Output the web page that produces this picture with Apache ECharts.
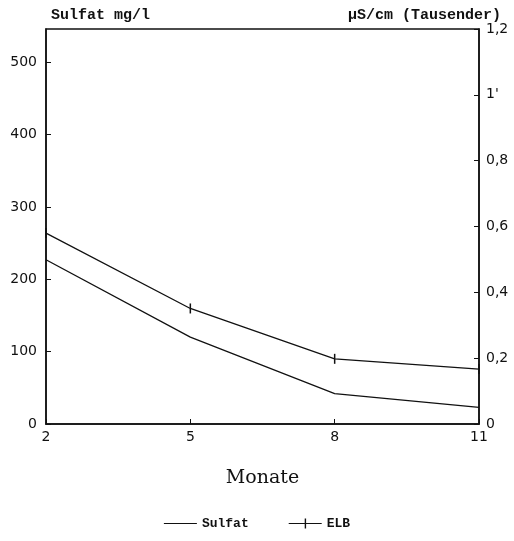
<!DOCTYPE html>
<html>
<head>
<meta charset="utf-8">
<script src="https://cdn.jsdelivr.net/npm/echarts@6/dist/echarts.min.js"></script>
<style>
  html, body { margin: 0; padding: 0; background: #fff; }
  #chart { width: 514px; height: 541px; }
</style>
</head>
<body>
<div id="chart"></div>
<script>
// Daten
const months = [2, 5, 8, 11];
const sulfat = [227, 120, 42, 23];          // mg/l
const elb = [0.58, 0.351, 0.198, 0.167];    // µS/cm (Tausender)
const rightLabels = ['0', '0,2', '0,4', '0,6', '0,8', "1'", '1,2'];

const chart = echarts.init(document.getElementById('chart'));

const monoFont = 'Liberation Mono';
const numFont = 'DejaVu Sans';

// Legenden-Symbole: Linie bzw. Linie mit senkrechtem Strich
const iconLine = 'path://M0,4.4L33,4.4L33,5.6L0,5.6Z';
const iconCross = 'path://M0,4.4L16,4.4L16,0L17.4,0L17.4,4.4L33,4.4L33,5.6L17.4,5.6L17.4,10L16,10L16,5.6L0,5.6Z';

const option = {
    animation: false,
    title: [
        {
            text: 'Sulfat mg/l',
            left: 46, top: 3,
            textStyle: { fontFamily: monoFont, fontSize: 15, fontWeight: 'bold', color: '#111' }
        },
        {
            text: 'µS/cm (Tausender)',
            right: 8, top: 3,
            textStyle: { fontFamily: monoFont, fontSize: 15, fontWeight: 'bold', color: '#111' }
        }
    ],
    grid: {
        left: 46, right: 35, top: 29, bottom: 117,
        show: true,
        borderColor: '#111',
        borderWidth: 1.5
    },
    legend: {
        bottom: 6,
        left: 'center',
        itemWidth: 33,
        itemHeight: 10,
        itemGap: 40,
        textStyle: { fontFamily: monoFont, fontSize: 13, fontWeight: 'bold', color: '#111' },
        data: [
            { name: 'Sulfat', icon: iconLine },
            { name: 'ELB', icon: iconCross }
        ]
    },
    xAxis: {
        type: 'value',
        min: 2,
        max: 11,
        interval: 3,
        name: 'Monate',
        nameLocation: 'middle',
        nameGap: 45,
        nameTextStyle: { fontFamily: 'DejaVu Serif', fontSize: 19, color: '#111' },
        axisLine: { lineStyle: { color: '#111', width: 1.5 } },
        axisTick: { inside: true, length: 5, lineStyle: { color: '#111' } },
        axisLabel: { fontFamily: numFont, fontSize: 14, color: '#111', margin: 6 },
        splitLine: { show: false }
    },
    yAxis: [
        {
            type: 'value',
            min: 0,
            max: 546,
            interval: 100,
            axisLine: { show: true, lineStyle: { color: '#111', width: 1.5 } },
            axisTick: { show: true, inside: true, length: 5, lineStyle: { color: '#111' } },
            axisLabel: { fontFamily: numFont, fontSize: 14, color: '#111', margin: 9, showMaxLabel: false },
            splitLine: { show: false }
        },
        {
            type: 'value',
            min: 0,
            max: 1.2,
            interval: 0.2,
            position: 'right',
            axisLine: { show: true, lineStyle: { color: '#111', width: 1.5 } },
            axisTick: { show: true, inside: true, length: 5, lineStyle: { color: '#111' } },
            axisLabel: {
                fontFamily: numFont, fontSize: 14, color: '#111', margin: 7,
                formatter: function (v) {
                    return rightLabels[Math.round(v / 0.2)];
                }
            },
            splitLine: { show: false }
        }
    ],
    series: [
        {
            name: 'Sulfat',
            type: 'line',
            yAxisIndex: 0,
            data: months.map((m, i) => [m, sulfat[i]]),
            symbol: 'none',
            lineStyle: { color: '#111', width: 1.3 },
            itemStyle: { color: '#111' }
        },
        {
            name: 'ELB',
            type: 'line',
            yAxisIndex: 1,
            data: months.map((m, i) => [m, elb[i]]),
            symbol: 'rect',
            symbolSize: [1.5, 10],
            lineStyle: { color: '#111', width: 1.3 },
            itemStyle: { color: '#111' }
        }
    ]
};

chart.setOption(option);

window.addEventListener('resize', () => {
    chart.resize();
});
</script>
</body>
</html>
